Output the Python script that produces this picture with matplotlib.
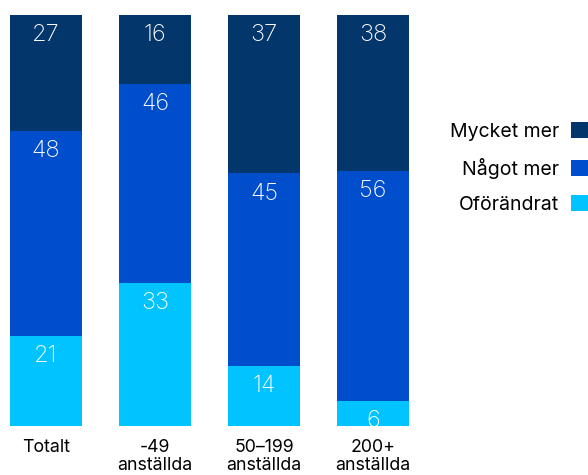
import numpy as np
import matplotlib
matplotlib.use("Agg")
import matplotlib.pyplot as plt

plt.rcParams['font.family'] = ['Inter', 'DejaVu Sans']

categories = ['Totalt', '-49\nanställda', '50–199\nanställda', '200+\nanställda']
series = ['Oförändrat', 'Något mer', 'Mycket mer']
oforandrat = [21, 33, 14, 6]
nagot_mer = [48, 46, 45, 56]
mycket_mer = [27, 16, 37, 38]
colors = ['#00C3FF', '#004ECC', '#03366B']

values = np.array([oforandrat, nagot_mer, mycket_mer], dtype=float)
shares = values / values.sum(axis=0)  # each bar is drawn at full height

fig = plt.figure(figsize=(5.88, 4.75), dpi=100)
ax = fig.add_axes([0, 49 / 475, 420 / 588, 411 / 475])

x = np.arange(len(categories))
bottom = np.zeros(len(categories))
for name, vals, share, col in zip(series, values, shares, colors):
    ax.bar(x, share, bottom=bottom, width=72 / 109, color=col, label=name)
    for xi, v, b, s in zip(x, vals, bottom, share):
        ax.text(xi, b + s - 0.049, f'{v:.0f}', ha='center', va='center',
                color='white', fontsize=17, fontweight='light')
    bottom += share

ax.set_xlim(-46 / 109, (420 - 46) / 109)
ax.set_ylim(0, 1)
ax.set_xticks(x)
ax.set_xticklabels(categories, fontsize=12.8, linespacing=1.15)
ax.tick_params(axis='x', length=0, pad=9)
ax.set_yticks([])
for s in ax.spines.values():
    s.set_visible(False)

h, l = ax.get_legend_handles_labels()
fig.legend(h[::-1], l[::-1], loc='center right', bbox_to_anchor=(1.0, 1 - 168 / 475),
           frameon=False, markerfirst=False, fontsize=14, handlelength=0.85,
           handleheight=0.85, handletextpad=0.65, labelspacing=0.85, borderpad=0,
           borderaxespad=0)

fig.savefig('out.png', dpi=100)
